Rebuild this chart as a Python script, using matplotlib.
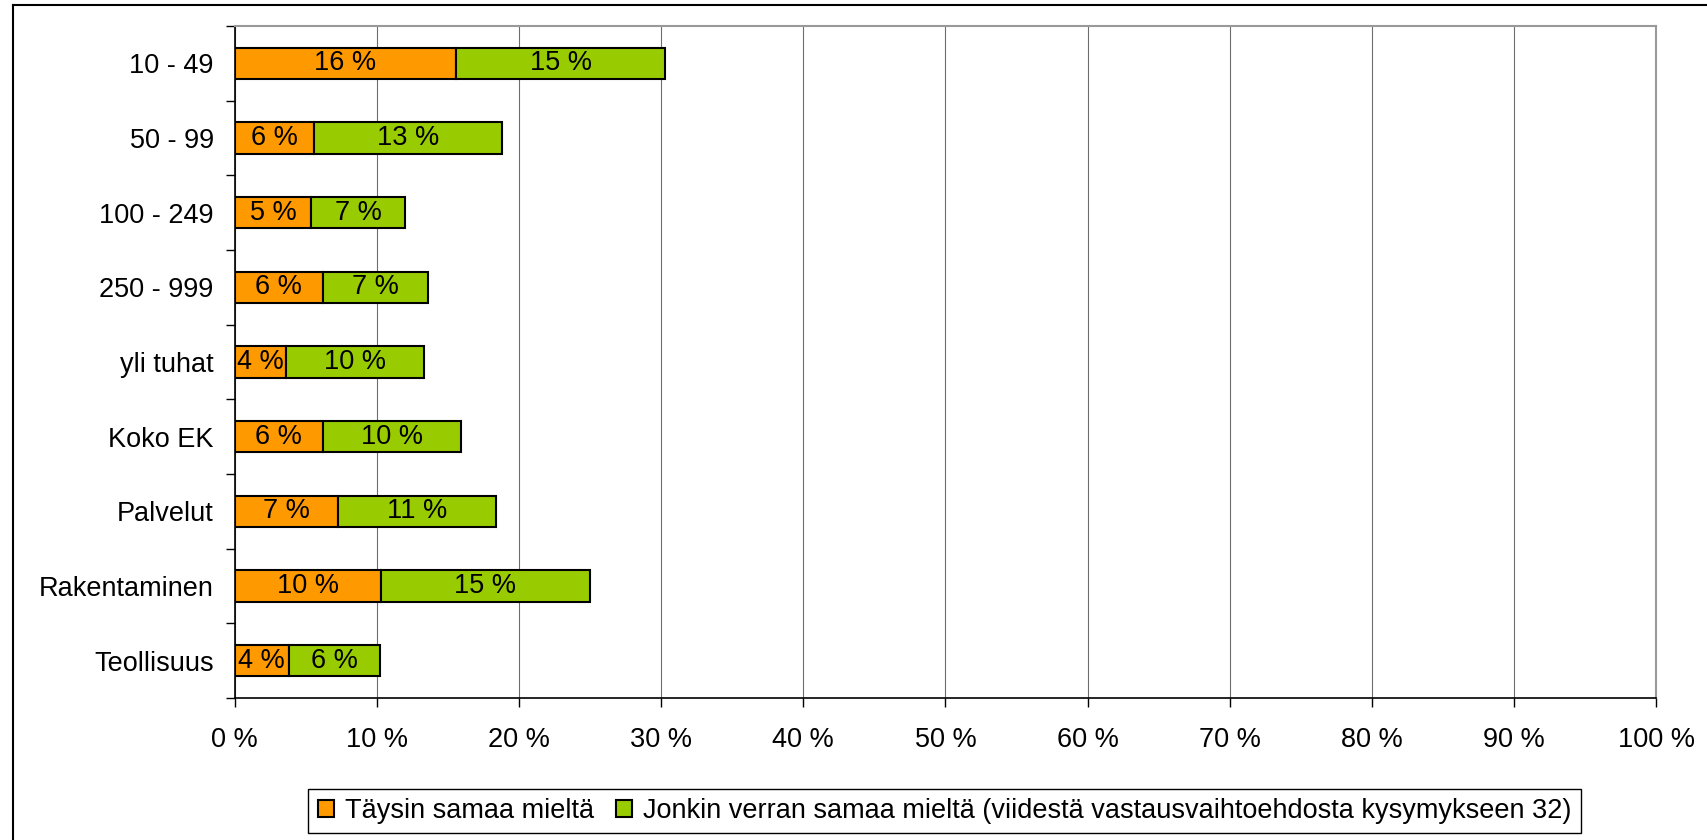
import matplotlib
matplotlib.use("Agg")
import matplotlib.pyplot as plt
from matplotlib.lines import Line2D
import numpy as np

plt.rcParams['font.family'] = ['Liberation Sans', 'DejaVu Sans']

# categories from top to bottom
groups = ["10 - 49", "50 - 99", "100 - 249", "250 - 999", "yli tuhat",
          "Koko EK", "Palvelut", "Rakentaminen", "Teollisuus"]
taysin = [15.6, 5.6, 5.4, 6.2, 3.6, 6.2, 7.3, 10.3, 3.8]
jonkin = [14.7, 13.2, 6.6, 7.4, 9.7, 9.7, 11.1, 14.7, 6.4]
series_names = ["Täysin samaa mieltä",
                "Jonkin verran samaa mieltä (viidestä vastausvaihtoehdosta kysymykseen 32)"]
xticks = np.arange(0, 101, 10)

fs = 19.5

fig = plt.figure(figsize=(17.07, 8.40), dpi=100)
ax = fig.add_axes([234.5 / 1707, 1 - 698 / 840, (1656.3 - 234.5) / 1707, (698 - 26) / 840])

y = np.arange(len(groups))
h = 0.42
b1 = ax.barh(y, taysin, height=h, color="#FF9900", edgecolor="black", linewidth=1.5,
             label=series_names[0], zorder=3)
b2 = ax.barh(y, jonkin, left=taysin, height=h, color="#99CC00", edgecolor="black",
             linewidth=1.5, label=series_names[1], zorder=3)
ax.bar_label(b1, fmt="{:.0f} %", label_type="center", fontsize=fs, zorder=4)
ax.bar_label(b2, fmt="{:.0f} %", label_type="center", fontsize=fs, zorder=4)

ax.set_xlim(0, 100)
ax.set_ylim(len(groups) - 0.5, -0.5)

# x axis
ax.set_xticks(xticks)
ax.set_xticklabels([f"{v} %" for v in xticks], fontsize=fs)
ax.tick_params(axis="x", direction="out", length=6.5, width=1, pad=14.5)
ax.xaxis.grid(True, color="#6e6e6e", linewidth=0.8, zorder=0)

# y axis: marks between categories, labels at centres
ax.set_yticks(np.arange(-0.5, len(groups)), minor=False)
ax.set_yticklabels([])
ax.set_yticks(y, minor=True)
ax.set_yticklabels(groups, minor=True, fontsize=fs)
ax.tick_params(axis="y", which="major", direction="out", length=6.5, width=1)
ax.tick_params(axis="y", which="minor", length=0, pad=15)

for s in ("top", "right"):
    ax.spines[s].set_color("#999999")
    ax.spines[s].set_linewidth(1.5)
for s in ("left", "bottom"):
    ax.spines[s].set_color("black")
    ax.spines[s].set_linewidth(1.2)

leg = fig.legend(handles=[b1, b2], labels=series_names, ncol=2, loc="center",
                 bbox_to_anchor=(944.5 / 1707, 1 - 811 / 840), fontsize=fs,
                 frameon=True, fancybox=False, framealpha=1, edgecolor="black",
                 handlelength=0.6, handleheight=0.6, handletextpad=0.4,
                 columnspacing=0.8, borderpad=0.35)
leg.get_frame().set_linewidth(1.0)

# outer chart border (left and top edges)
fig.add_artist(Line2D([12.7 / 1707, 12.7 / 1707], [0, 1 - 5 / 840],
                      color="black", linewidth=1.5, transform=fig.transFigure))
fig.add_artist(Line2D([12.7 / 1707, 1], [1 - 5 / 840, 1 - 5 / 840],
                      color="black", linewidth=1.5, transform=fig.transFigure))

fig.savefig("out.png", dpi=100)
